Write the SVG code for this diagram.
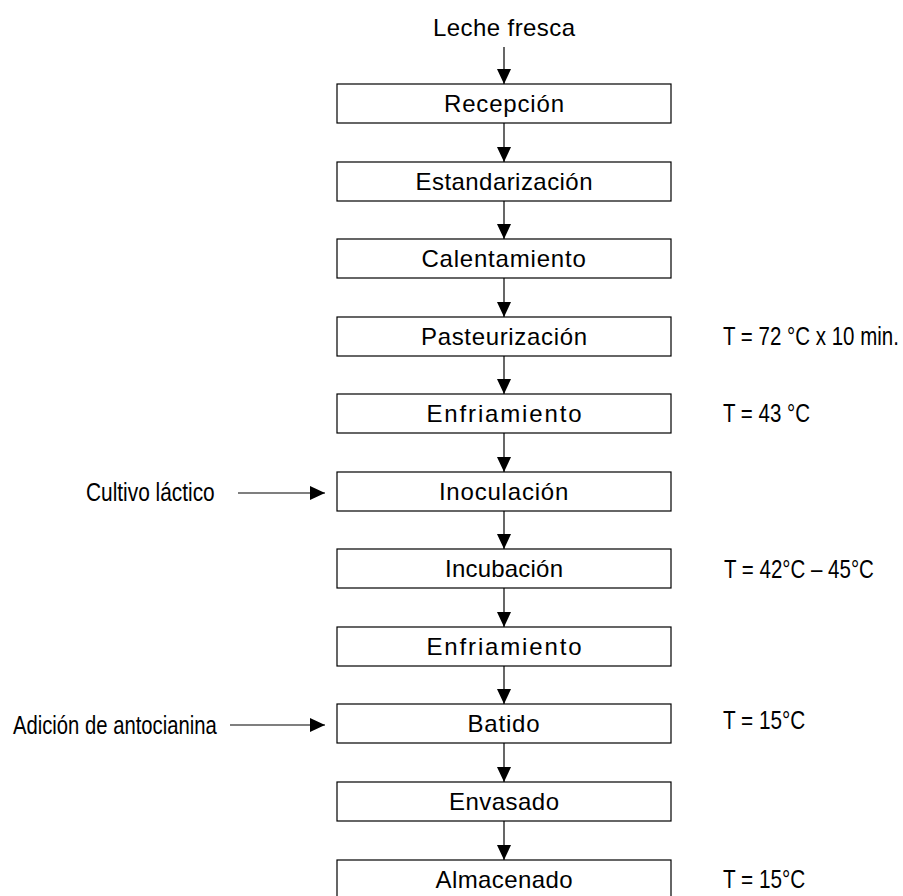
<svg xmlns="http://www.w3.org/2000/svg" width="903" height="896" viewBox="0 0 903 896">
<defs>
<style>
.box{fill:#fff;stroke:#000;stroke-width:1.2}
.t{font-family:"Liberation Sans",Arial,sans-serif;font-size:24px;fill:#000;text-anchor:middle}
.ls{letter-spacing:0.8px}
.n{font-family:"Liberation Sans",Arial,sans-serif;font-size:25px;fill:#000}
.c{stroke:#000;stroke-width:1.2;fill:none;marker-end:url(#ah)}
</style>
<marker id="ah" markerUnits="userSpaceOnUse" markerWidth="15" markerHeight="14" refX="15" refY="7" orient="auto">
<path d="M0,0 L15,7 L0,14 z" fill="#000"/>
</marker>
</defs>
<rect width="903" height="896" fill="#fff"/>
<g id="connectors">
<line class="c" x1="504" y1="47" x2="504" y2="84"/>
<line class="c" x1="504" y1="123" x2="504" y2="162"/>
<line class="c" x1="504" y1="201" x2="504" y2="239"/>
<line class="c" x1="504" y1="278" x2="504" y2="317"/>
<line class="c" x1="504" y1="356" x2="504" y2="394"/>
<line class="c" x1="504" y1="433" x2="504" y2="472"/>
<line class="c" x1="504" y1="511" x2="504" y2="549"/>
<line class="c" x1="504" y1="588" x2="504" y2="627"/>
<line class="c" x1="504" y1="666" x2="504" y2="704"/>
<line class="c" x1="504" y1="743" x2="504" y2="782"/>
<line class="c" x1="504" y1="821" x2="504" y2="860"/>
<line class="c" x1="238" y1="493" x2="325" y2="493"/>
<line class="c" x1="230" y1="725" x2="325" y2="725"/>
</g>
<g id="leche"><text class="t" x="504" y="36" textLength="142" lengthAdjust="spacing">Leche fresca</text></g>
<g id="recepcion"><rect class="box" x="337" y="84" width="334" height="39"/><text class="t" x="504" y="112" textLength="120" lengthAdjust="spacing">Recepción</text></g>
<g id="estandarizacion"><rect class="box" x="337" y="162" width="334" height="39"/><text class="t" x="504" y="190" textLength="177" lengthAdjust="spacing">Estandarización</text></g>
<g id="calentamiento"><rect class="box" x="337" y="239" width="334" height="39"/><text class="t ls" x="504" y="267">Calentamiento</text></g>
<g id="pasteurizacion"><rect class="box" x="337" y="317" width="334" height="39"/><text class="t" x="504" y="345" textLength="166" lengthAdjust="spacing">Pasteurización</text></g>
<g id="enfriamiento1"><rect class="box" x="337" y="394" width="334" height="39"/><text class="t" x="504" y="422" textLength="155" lengthAdjust="spacing">Enfriamiento</text></g>
<g id="inoculacion"><rect class="box" x="337" y="472" width="334" height="39"/><text class="t ls" x="504" y="500">Inoculación</text></g>
<g id="incubacion"><rect class="box" x="337" y="549" width="334" height="39"/><text class="t" x="504" y="577" textLength="118" lengthAdjust="spacing">Incubación</text></g>
<g id="enfriamiento2"><rect class="box" x="337" y="627" width="334" height="39"/><text class="t" x="504" y="655" textLength="155" lengthAdjust="spacing">Enfriamiento</text></g>
<g id="batido"><rect class="box" x="337" y="704" width="334" height="39"/><text class="t ls" x="504" y="732">Batido</text></g>
<g id="envasado"><rect class="box" x="337" y="782" width="334" height="39"/><text class="t" x="504" y="810" textLength="110" lengthAdjust="spacing">Envasado</text></g>
<g id="almacenado"><rect class="box" x="337" y="860" width="334" height="39"/><text class="t" x="504" y="888" textLength="137" lengthAdjust="spacing">Almacenado</text></g>
<g id="cultivo"><text class="n" transform="translate(86,501) scale(0.835,1)">Cultivo láctico</text></g>
<g id="antocianina"><text class="n" transform="translate(13,734) scale(0.81,1)">Adición de antocianina</text></g>
<g id="t72"><text class="n" transform="translate(723,345) scale(0.82,1)">T = 72 °C x 10 min.</text></g>
<g id="t43"><text class="n" transform="translate(723,422) scale(0.82,1)">T = 43 °C</text></g>
<g id="t42"><text class="n" transform="translate(724,578) scale(0.82,1)">T = 42°C – 45°C</text></g>
<g id="t15a"><text class="n" transform="translate(723,729) scale(0.83,1)">T = 15°C</text></g>
<g id="t15b"><text class="n" transform="translate(723,888) scale(0.83,1)">T = 15°C</text></g>
</svg>
